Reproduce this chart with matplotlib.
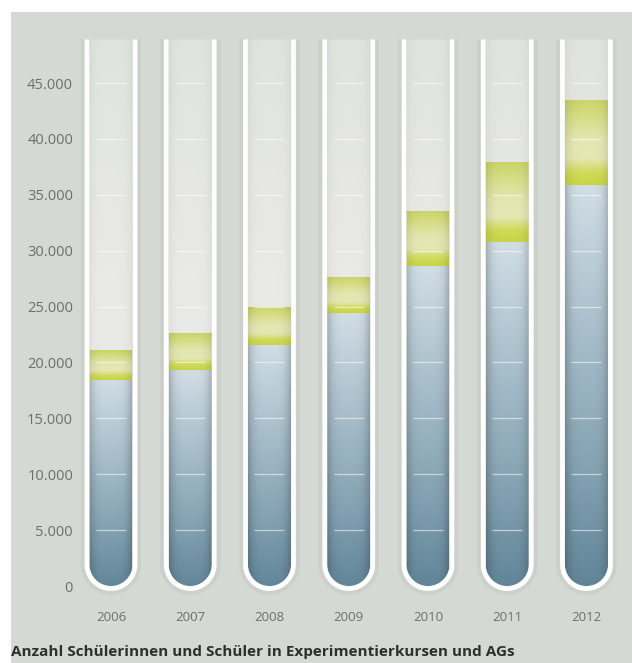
import numpy as np
import matplotlib.pyplot as plt
from matplotlib.path import Path
from matplotlib.patches import PathPatch, Rectangle
from matplotlib.colors import LinearSegmentedColormap

plt.rcParams["font.family"] = ["Open Sans", "DejaVu Sans"]

years = ["2006", "2007", "2008", "2009", "2010", "2011", "2012"]
kurse = [18400, 19300, 21600, 24400, 28600, 30800, 35900]
gesamt = [21000, 22600, 24950, 27600, 33500, 37950, 43500]
y_ticks = list(range(0, 45001, 5000))
y_labels = ["0"] + [f"{v:,}".replace(",", ".") for v in y_ticks[1:]]
title = "Anzahl Schülerinnen und Schüler in Experimentierkursen und AGs"

W, H = 632, 663
BG = "#d5d9d3"

fig = plt.figure(figsize=(W / 100, H / 100), dpi=100)
fig.patch.set_facecolor("white")
fig.patches.append(Rectangle((11 / W, 0), 1, 1 - 12 / H, transform=fig.transFigure,
                             facecolor=BG, edgecolor="none", zorder=-1))

# axes placed in pixels
ax_l, ax_r, ax_top, ax_bot = 80, 625, 32.7, 602.8
ax = fig.add_axes([ax_l / W, 1 - ax_bot / H, (ax_r - ax_l) / W, (ax_bot - ax_top) / H])
ax.set_facecolor("none")
xlim = (-0.391, 6.486)
ylim = (-1500, 49500)
sx = (ax_r - ax_l) / (xlim[1] - xlim[0])   # px per x unit
sy = (ax_bot - ax_top) / (ylim[1] - ylim[0])  # px per y unit

tube_top = 48900
r_in = 21.5   # inner radius, px
r_wall = 24.0  # wall centre line, px


def u_path(cx, r_px, close):
    hw = r_px / sx
    ry = r_px / sy
    yc = r_in / sy
    th = np.linspace(np.pi, 2 * np.pi, 60)
    xs = [cx - hw] + list(cx + hw * np.cos(th)) + [cx + hw]
    ys = [tube_top] + list(yc + ry * np.sin(th)) + [tube_top]
    verts = list(zip(xs, ys))
    codes = [Path.MOVETO] + [Path.LINETO] * (len(verts) - 1)
    if close:
        verts.append(verts[0])
        codes.append(Path.CLOSEPOLY)
    return Path(verts, codes)


def gradient(stops, horiz, n=200, m=40):
    cmap = LinearSegmentedColormap.from_list("g", stops)
    v = cmap(np.linspace(0, 1, n))[:, :3]
    u = np.linspace(-1, 1, m)
    shade = 1 - horiz * u ** 4
    return np.clip(v[:, None, :] * shade[None, :, None], 0, 1)


liquid = gradient([(0, "#5f8497"), (0.3, "#84a2b2"), (0.65, "#a9bfcb"), (1, "#d0dde5")], 0.2)
band = gradient([(0, "#c8d444"), (0.15, "#d0db5c"), (0.32, "#e5e8b6"), (0.55, "#e3e6ae"),
                 (0.8, "#d6dd86"), (1, "#cbd468")], 0.1)
empty = gradient([(0, "#ecedeb"), (0.6, "#e9eae7"), (1, "#e1e3df")], 0.04)

for i, (k, g) in enumerate(zip(kurse, gesamt)):
    cx = i
    hw = r_in / sx
    clip = PathPatch(u_path(cx, r_in, True), transform=ax.transData)
    for arr, y0, y1, z in [(empty, -500, tube_top, 1), (liquid, -500, k, 2), (band, k, g, 3)]:
        im = ax.imshow(arr, extent=[cx - hw, cx + hw, y0, y1], origin="lower",
                       aspect="auto", interpolation="bilinear", zorder=z)
        im.set_clip_path(clip)
    # scale marks
    for t in y_ticks[1:]:
        ax.plot([cx - 15 / sx, cx + 15 / sx], [t, t], color="white", lw=0.9,
                alpha=0.55, solid_capstyle="butt", zorder=4)
    wall = u_path(cx, r_wall, False)
    ax.add_patch(PathPatch(wall, facecolor="none", edgecolor="#c4c8c3", lw=9,
                           alpha=0.5, zorder=0.5))
    ax.add_patch(PathPatch(wall, facecolor="none", edgecolor="white", lw=3.4,
                           capstyle="butt", zorder=5))

ax.set_xlim(*xlim)
ax.set_ylim(*ylim)
ax.set_xticks(range(len(years)), years)
ax.set_yticks(y_ticks, y_labels)
ax.tick_params(length=0, colors="#6e6e6e")
ax.tick_params(axis="x", pad=6, labelsize=9.5)
ax.tick_params(axis="y", pad=5, labelsize=10.5)
for s in ax.spines.values():
    s.set_visible(False)

fig.text(11 / W, 1 - 652 / H, title, fontsize=11, fontweight="bold",
         color="#2e2e2e", va="center", ha="left")

fig.savefig("out.png", dpi=100)
